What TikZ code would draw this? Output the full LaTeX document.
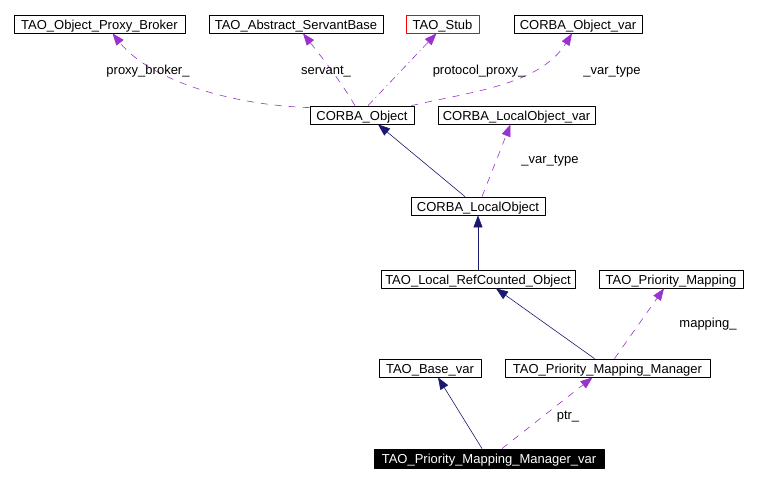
\documentclass[tikz,border=0pt]{standalone}
\usepackage{fontspec}
\setmainfont{Liberation Sans}
\usetikzlibrary{arrows.meta}
\definecolor{navy}{RGB}{25,25,112}
\definecolor{purple}{RGB}{154,50,205}
\definecolor{red}{RGB}{255,0,0}
\tikzset{
  cls/.style={draw, line width=0.8pt, minimum height=18pt, inner sep=0pt, text height=12pt, text depth=1.5pt, font=\fontsize{13}{14}\selectfont},
  lbl/.style={inner sep=0pt, text height=9.5pt, text depth=2.5pt, font=\fontsize{13}{14}\selectfont},
  inherit/.style={navy, line width=0.6pt, -{Triangle[length=12pt,width=9pt]}},
  uses/.style={purple, line width=0.6pt, dash pattern=on 7pt off 7pt, -{Triangle[length=12pt,width=9pt]}},
}
\begin{document}
\begin{tikzpicture}[x=1pt,y=-1pt, line join=round]
  \useasboundingbox[fill=white] (0,0) rectangle (757,483);
  % classes
  \node[cls, minimum width=171pt] (broker) at (99.5,24) {TAO\_Object\_Proxy\_Broker};
  \node[cls, minimum width=174pt] (servant) at (296,24) {TAO\_Abstract\_ServantBase};
  \node[cls, draw=red, minimum width=73pt] (stub) at (442.5,24) {TAO\_Stub};
  \node[cls, minimum width=128pt] (objvar) at (578,24) {CORBA\_Object\_var};
  \node[cls, minimum width=104pt] (corbaobj) at (362,115) {CORBA\_Object};
  \node[cls, minimum width=157pt] (localvar) at (516.5,115) {CORBA\_LocalObject\_var};
  \node[cls, minimum width=134pt] (localobj) at (478,206) {CORBA\_LocalObject};
  \node[cls, minimum width=194pt] (refcounted) at (478,279) {TAO\_Local\_RefCounted\_Object};
  \node[cls, minimum width=144pt] (mapping) at (671,279) {TAO\_Priority\_Mapping};
  \node[cls, minimum width=102pt] (basevar) at (430,368) {TAO\_Base\_var};
  \node[cls, minimum width=205pt] (manager) at (607.5,368) {TAO\_Priority\_Mapping\_Manager};
  \node[cls, fill=black, text=white, minimum width=230pt, minimum height=19pt] (managervar) at (489,458.5) {TAO\_Priority\_Mapping\_Manager\_var};
  % members
  \draw[uses] ([yshift=-2pt]corbaobj.north west) .. controls (230,105) and (150,80) .. ([xshift=13pt]broker.south);
  \draw[uses] ([xshift=-7pt]corbaobj.north) .. controls (340,80) and (320,55) .. ([xshift=7pt]servant.south);
  \draw[uses, dash pattern=on 7pt off 4pt on 1pt off 4pt] ([xshift=6pt]corbaobj.north) -- ([xshift=-6pt]stub.south);
  \draw[uses] ([xshift=-3pt]corbaobj.north east) .. controls (470,92) and (540,85) .. ([xshift=-6pt]objvar.south);
  \node[lbl] (lbroker) at (148,71) {proxy\_broker\_};
  \node[lbl] (lservant) at (326,71) {servant\_};
  \node[lbl] (lproxy) at (479,71) {protocol\_proxy\_};
  \node[lbl] (lobjvar) at (612,71) {\_var\_type};
  % inheritance and rest
  \draw[inherit] ([xshift=-13pt]localobj.north) -- ([xshift=16pt]corbaobj.south);
  \draw[uses] ([xshift=4pt]localobj.north) -- ([xshift=-6pt]localvar.south);
  \node[lbl] (llocalvar) at (550,160) {\_var\_type};
  \draw[inherit] (refcounted.north) -- (localobj.south);
  \draw[inherit] ([xshift=-13pt]manager.north) -- ([xshift=18pt]refcounted.south);
  \draw[uses] ([xshift=7pt]manager.north) -- ([xshift=-7pt]mapping.south);
  \node[lbl] (lmapping) at (708,324) {mapping\_};
  \draw[inherit] ([xshift=-7pt]managervar.north) -- ([xshift=8pt]basevar.south);
  \draw[uses] ([xshift=13pt]managervar.north) -- ([xshift=-15pt]manager.south);
  \node[lbl] (lptr) at (568,416) {ptr\_};
\end{tikzpicture}
\end{document}
